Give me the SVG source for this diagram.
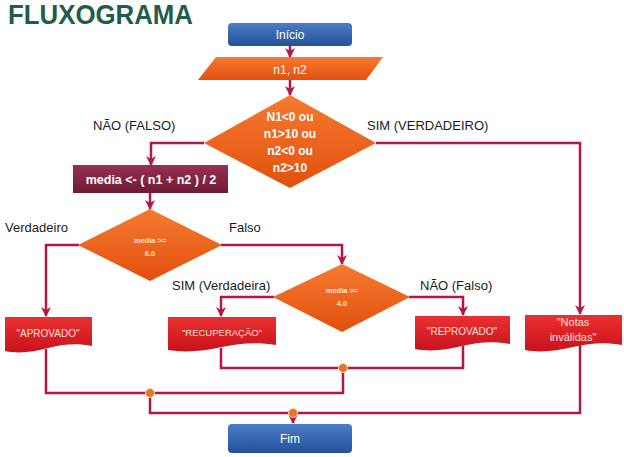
<svg xmlns="http://www.w3.org/2000/svg" width="624" height="457" viewBox="0 0 624 457">
<defs>
<linearGradient id="gBlue" x1="0" y1="0" x2="0" y2="1"><stop offset="0" stop-color="#4a7dc6"/><stop offset="1" stop-color="#24519a"/></linearGradient>
<linearGradient id="gOrange" x1="0" y1="0" x2="0" y2="1"><stop offset="0" stop-color="#f67a30"/><stop offset="1" stop-color="#e2500e"/></linearGradient>
<linearGradient id="gMaroon" x1="0" y1="0" x2="0" y2="1"><stop offset="0" stop-color="#98304f"/><stop offset="1" stop-color="#6e1a36"/></linearGradient>
<linearGradient id="gRed" x1="0" y1="0" x2="0" y2="1"><stop offset="0" stop-color="#ea3030"/><stop offset="1" stop-color="#c8121c"/></linearGradient>
<marker id="arr" viewBox="0 0 10 10" refX="9" refY="5" markerWidth="4" markerHeight="4" orient="auto"><path d="M0,0 L10,5 L0,10 L3,5 Z" fill="#b1174a"/></marker>
</defs>
<style>
.ln{fill:none;stroke:#b1174a;stroke-width:2.5}
.lbl{font-family:"Liberation Sans",Arial,sans-serif;font-size:13px;fill:#1a1a1a}
.wt{font-family:"Liberation Sans",Arial,sans-serif;fill:#ffffff;text-anchor:middle}
.pk{font-family:"Liberation Sans",Arial,sans-serif;fill:#ffe0d8;text-anchor:middle}
.dot{fill:#e8742a;stroke:#f8d6b8;stroke-width:1}
</style>
<text x="8" y="24" font-family="Liberation Sans,Arial,sans-serif" font-weight="bold" font-size="27" fill="#1f5c4c" textLength="185" lengthAdjust="spacingAndGlyphs">FLUXOGRAMA</text>

<g id="connectors">
<path class="ln" d="M290,46 V57" marker-end="url(#arr)"/>
<path class="ln" d="M290,80 V95" marker-end="url(#arr)"/>
<path class="ln" d="M204,143 H151 V165" marker-end="url(#arr)"/>
<path class="ln" d="M376,143 H580 V314" marker-end="url(#arr)"/>
<path class="ln" d="M150,193 V209" marker-end="url(#arr)"/>
<path class="ln" d="M79,245 H46 V316" marker-end="url(#arr)"/>
<path class="ln" d="M221,245 H342 V264" marker-end="url(#arr)"/>
<path class="ln" d="M274,297 H221 V316" marker-end="url(#arr)"/>
<path class="ln" d="M409,297 H463 V315" marker-end="url(#arr)"/>
<path class="ln" d="M46,349 V393 H343 V368"/>
<path class="ln" d="M221,348 V368 H463 V346"/>
<path class="ln" d="M150,393 V413 H580 V344"/>
<path class="ln" d="M293,413 V423" marker-end="url(#arr)"/>
<circle class="dot" cx="150" cy="393" r="4.5"/>
<circle class="dot" cx="343" cy="368" r="4.5"/>
<circle class="dot" cx="293" cy="413" r="4.5"/>
</g>

<text class="lbl" x="93" y="130">NÃO (FALSO)</text>
<text class="lbl" x="367" y="130">SIM (VERDADEIRO)</text>
<text class="lbl" x="68" y="232" text-anchor="end">Verdadeiro</text>
<text class="lbl" x="229" y="232">Falso</text>
<text class="lbl" x="172" y="290">SIM (Verdadeira)</text>
<text class="lbl" x="420" y="290">NÃO (Falso)</text>

<g id="inicio">
<rect x="228" y="23" width="124" height="23" rx="4" fill="url(#gBlue)"/>
<text class="wt" x="290" y="39" font-size="12">Início</text>
</g>
<g id="entrada">
<polygon points="216,57 383,57 366,80 198,80" fill="url(#gOrange)"/>
<text class="wt" x="290" y="74" font-size="12">n1, n2</text>
</g>
<g id="decisao1">
<polygon points="290,95 376,143 290,188 204,143" fill="url(#gOrange)"/>
<text class="wt" x="290" y="121" font-size="12" font-weight="bold">N1&lt;0 ou</text>
<text class="wt" x="290" y="138" font-size="12" font-weight="bold">n1&gt;10 ou</text>
<text class="wt" x="290" y="155" font-size="12" font-weight="bold">n2&lt;0 ou</text>
<text class="wt" x="290" y="172" font-size="12" font-weight="bold">n2&gt;10</text>
</g>
<g id="media">
<rect x="73" y="165" width="155" height="28" fill="url(#gMaroon)"/>
<text class="wt" x="151" y="184" font-size="12.5" font-weight="bold">media &lt;- ( n1 + n2 ) / 2</text>
</g>
<g id="decisao2">
<polygon points="150,209 222,245 150,281 78,245" fill="url(#gOrange)"/>
<text class="pk" x="150" y="243" font-size="7.5" font-weight="bold">media &gt;=</text>
<text class="pk" x="150" y="256" font-size="7.5" font-weight="bold">6.0</text>
</g>
<g id="decisao3">
<polygon points="342,264 410,297 342,332 273,297" fill="url(#gOrange)"/>
<text class="pk" x="342" y="293" font-size="7.5" font-weight="bold">media &gt;=</text>
<text class="pk" x="342" y="306" font-size="7.5" font-weight="bold">4.0</text>
</g>
<g id="aprovado">
<path d="M5,317 H92 V346 C78,343 62,344 48,348 C34,352 18,354 5,351 Z" fill="url(#gRed)"/>
<text class="pk" x="48" y="337" font-size="10">"APROVADO"</text>
</g>
<g id="recuperacao">
<path d="M168,317 H276 V345 C258,342 240,343 222,347 C204,351 186,353 168,350 Z" fill="url(#gRed)"/>
<text class="pk" x="222" y="336" font-size="9.5">"RECUPERAÇÃO"</text>
</g>
<g id="reprovado">
<path d="M415,316 H510 V344 C494,341 478,342 462,346 C446,350 430,352 415,349 Z" fill="url(#gRed)"/>
<text class="pk" x="462" y="335" font-size="10">"REPROVADO"</text>
</g>
<g id="notas">
<path d="M525,315 H622 V345 C606,342 590,343 573,347 C556,351 540,353 525,350 Z" fill="url(#gRed)"/>
<text class="pk" x="573" y="326" font-size="11">"Notas</text>
<text class="pk" x="573" y="341" font-size="11">inválidas"</text>
</g>
<g id="fim">
<rect x="228" y="424" width="124" height="29" rx="4" fill="url(#gBlue)"/>
<text class="wt" x="290" y="443" font-size="12">Fim</text>
</g>
</svg>
